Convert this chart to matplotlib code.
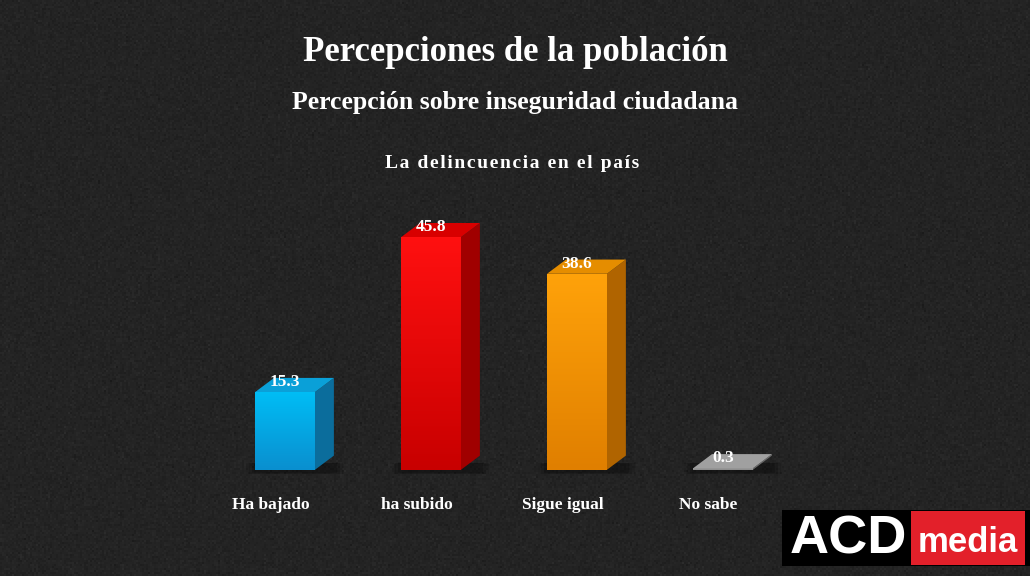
import numpy as np
import matplotlib.pyplot as plt
from matplotlib.colors import to_rgb
from matplotlib.patches import Polygon, Rectangle

# Datos
categorias = ['Ha bajado', 'ha subido', 'Sigue igual', 'No sabe']
valores = [15.3, 45.8, 38.6, 0.3]
colores_frente = [('#00bdf5', '#0a8fcf'), ('#ff1010', '#c80000'),
                  ('#ffa20a', '#e07f00'), ('#9a9a9a', '#8a8a8a')]
colores_lado = ['#0b6d9c', '#a00000', '#b06400', '#6a6a6a']
colores_tapa = ['#0aa0d8', '#d80000', '#e58d00', '#a0a0a0']

titulo = 'Percepciones de la población'
subtitulo = 'Percepción sobre inseguridad ciudadana'
pregunta = 'La delincuencia en el país'

serif = ['Liberation Serif', 'DejaVu Serif']

fig = plt.figure(figsize=(10.3, 5.76), dpi=100)
fig.patch.set_facecolor('#242424')

# fondo con un poco de textura
bg = fig.add_axes([0, 0, 1, 1])
bg.set_axis_off()
rng = np.random.default_rng(3)
tex = 0.14 + 0.010 * rng.standard_normal((288, 515))
bg.imshow(tex, cmap='gray', vmin=0, vmax=1, aspect='auto', extent=[0, 1, 0, 1])
bg.set_xlim(0, 1)
bg.set_ylim(0, 1)

ax = fig.add_axes([0, 0, 1, 1])
ax.set_axis_off()
ax.patch.set_alpha(0)
ax.set_xlim(-1.952, 5.103)
ax.set_ylim(-20.9, 92.5)

ancho = 0.41
dx = 0.13
dy = 2.8
x = np.arange(len(categorias))

for i, v in enumerate(valores):
    x0 = x[i] - ancho / 2
    x1 = x[i] + ancho / 2
    # sombra suave
    for k, a in enumerate([0.10, 0.12, 0.15]):
        e = 0.06 - 0.02 * k
        sombra = Polygon([(x0 - e, -0.6 - e * 5), (x1 + dx + e, -0.6 - e * 5),
                          (x1 + dx + e, dy * 0.5), (x0 - e, dy * 0.5)], closed=True,
                         facecolor='black', alpha=a, edgecolor='none', zorder=1)
        ax.add_patch(sombra)
    # frente con degradado
    barra = ax.bar(x[i], v, width=ancho, color=colores_frente[i][0], zorder=3)[0]
    grad = np.linspace(0, 1, 100).reshape(-1, 1)
    c0 = np.array(to_rgb(colores_frente[i][0]))
    c1 = np.array(to_rgb(colores_frente[i][1]))
    img = c1 + (c0 - c1) * grad[:, :, None]
    im = ax.imshow(img, extent=[x0, x1, 0, v], origin='lower', aspect='auto', zorder=3.5)
    im.set_clip_path(barra)
    # lado
    lado = Polygon([(x1, 0), (x1 + dx, dy), (x1 + dx, v + dy), (x1, v)], closed=True,
                   facecolor=colores_lado[i], edgecolor='none', zorder=3)
    ax.add_patch(lado)
    # tapa
    tapa = Polygon([(x0, v), (x1, v), (x1 + dx, v + dy), (x0 + dx, v + dy)], closed=True,
                   facecolor=colores_tapa[i], edgecolor='none', zorder=3)
    ax.add_patch(tapa)
    ax.text(x[i], v + 0.4, f'{v}', ha='center', va='bottom', color='white',
            fontsize=12.5, fontweight='bold', family=serif, zorder=5)
    ax.text(x[i] - 0.1, -6.9, categorias[i], ha='center', va='center', color='white',
            fontsize=12.5, fontweight='bold', family=serif, zorder=5)

# textos
fig.text(0.5, 0.908, titulo, ha='center', va='center', color='white', fontsize=25,
         fontweight='bold', family=serif)
fig.text(0.5, 0.822, subtitulo, ha='center', va='center', color='white', fontsize=18.5,
         fontweight='bold', family=serif)
fig.text(0.497, 0.716, '\u200a'.join(pregunta), ha='center', va='center', color='white',
         fontsize=14, fontweight='bold', family=serif)

# logo
logo = fig.add_axes([782 / 1030, 10 / 576, 248 / 1030, 56 / 576])
logo.set_axis_off()
logo.set_xlim(0, 248)
logo.set_ylim(0, 56)
logo.add_patch(Rectangle((0, 0), 248, 56, facecolor='black', edgecolor='none'))
logo.add_patch(Rectangle((129, 1), 114, 54, facecolor='#e3202a', edgecolor='none'))
logo.text(66, 26, 'ACD', ha='center', va='center', color='white', fontsize=39,
          fontweight='bold', family=['Liberation Sans', 'DejaVu Sans'])
logo.text(186, 24, 'media', ha='center', va='center', color='white', fontsize=25,
          fontweight='bold', family=['Liberation Sans', 'DejaVu Sans'])

fig.savefig('out.png', dpi=100, facecolor=fig.get_facecolor())
